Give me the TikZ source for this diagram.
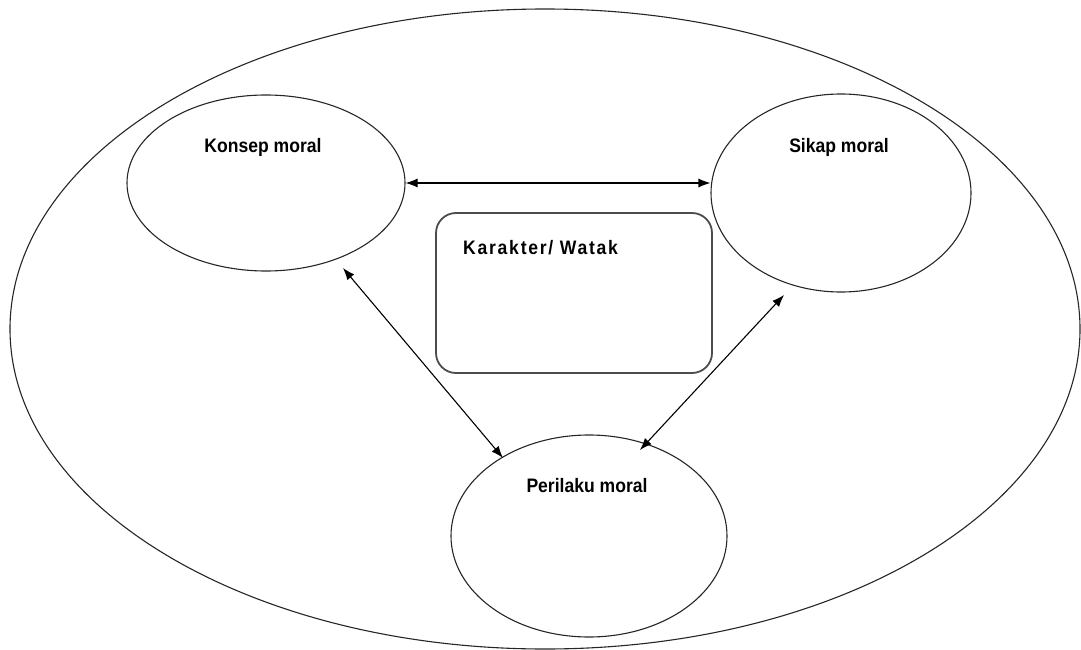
\documentclass[tikz,border=0pt]{standalone}
\usepackage{fontspec}
\newfontfamily\labfont[FakeStretch=0.9]{Liberation Sans}
\newfontfamily\labwide[FakeStretch=0.9,LetterSpace=9]{Liberation Sans}
\usetikzlibrary{shapes.geometric,arrows.meta,calc}
\begin{document}
\begin{tikzpicture}[x=1pt,y=-1pt,
  oval/.style={draw=black!85,line width=1.1pt,ellipse,inner sep=0pt},
  lab/.style={font=\labfont\bfseries\fontsize{19.5}{22}\selectfont,anchor=base,inner sep=0pt},
  link/.style={line width=1.1pt,{Latex[length=12pt,width=9pt]}-{Latex[length=12pt,width=9pt]}}]
\useasboundingbox (0,0) rectangle (1081,650);
\node[oval,minimum width=1070pt,minimum height=640pt] (outer) at (545,329) {};
\node[oval,minimum width=278pt,minimum height=176pt] (konsep) at (266,183) {};
\node[oval,minimum width=260pt,minimum height=198pt] (sikap) at (841,193) {};
\node[oval,minimum width=276pt,minimum height=202pt] (perilaku) at (589,536) {};
\node[draw=black!70,line width=1.8pt,rounded corners=20pt,minimum width=276pt,minimum height=160pt,inner sep=0pt] (karakter) at (574,293) {};
\node[lab] (tkonsep) at (263,153) {Konsep moral};
\node[lab] (tsikap) at (839,152) {Sikap moral};
\node[lab,anchor=base west,font=\labwide\bfseries\fontsize{19.5}{22}\selectfont] (tkarakter) at (463,254) {Karakter/ Watak};
\node[lab] (tperilaku) at (587,492) {Perilaku moral};
\draw[link] (konsep.east) -- (konsep.east -| sikap.west);
\draw[link] ($(konsep.center)+(77,85)$) -- ($(perilaku.center)+(-86,-78)$);
\draw[link] ($(sikap.center)+(-57,102)$) -- ($(perilaku.center)+(51,-86)$);
\end{tikzpicture}
\end{document}
